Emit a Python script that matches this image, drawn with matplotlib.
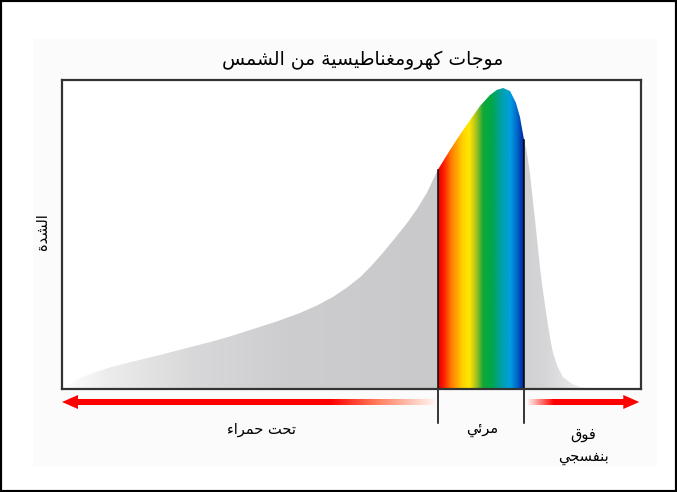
import numpy as np
import matplotlib
matplotlib.use("Agg")
import matplotlib.pyplot as plt
from matplotlib.colors import LinearSegmentedColormap
from matplotlib.patches import Polygon, Rectangle, FancyArrow

# --- text (Arabic) ---
title = "موجات كهرومغناطيسية من الشمس"
ylabel = "الشدة"
band_labels = ["تحت حمراء", "مرئي", "فوق\nبنفسجي"]

# --- curve (x: position 0-100, y: intensity 0-100) ---
x_ir = [0.0, 2.0, 4.5, 8.3, 12.5, 16.9, 21.0, 25.6, 29.0, 32.5, 37.0, 41.1, 44.0,
        46.8, 49.2, 51.5, 53.5, 55.4, 57.5, 59.6, 61.4, 63.0, 64.9]
y_ir = [0.5, 2.5, 4.6, 7.0, 9.0, 11.0, 13.0, 15.2, 17.0, 19.1, 21.8, 24.6, 27.0,
        29.8, 32.8, 36.2, 40.0, 44.0, 48.8, 53.7, 58.5, 63.4, 70.9]
x_vis = [64.9, 67.0, 68.7, 70.5, 72.2, 73.9, 75.1, 76.2, 77.4, 78.4, 79.1, 79.8]
y_vis = [70.9, 77.3, 82.2, 87.1, 91.6, 95.1, 96.8, 97.4, 96.4, 92.6, 88.0, 80.6]
x_uv = [79.8, 80.3, 80.8, 81.7, 82.6, 83.2, 83.8, 84.3, 84.8, 85.6, 86.5, 88.0, 89.5, 92.9]
y_uv = [80.6, 76.4, 70.0, 54.7, 38.5, 30.0, 22.3, 16.5, 11.7, 7.2, 3.9, 1.8, 0.6, 0.0]
label_x = [34.4, 72.5, 90.0]


# minimal arabic shaping: pick presentation forms, then reverse for LTR drawing
FORMS = {
    'ء': ('\ufe80', None, None, None),
    'ئ': ('\ufe89', '\ufe8a', '\ufe8b', '\ufe8c'),
    'ا': ('\ufe8d', '\ufe8e', None, None),
    'ب': ('\ufe8f', '\ufe90', '\ufe91', '\ufe92'),
    'ة': ('\ufe93', '\ufe94', None, None),
    'ت': ('\ufe95', '\ufe96', '\ufe97', '\ufe98'),
    'ج': ('\ufe9d', '\ufe9e', '\ufe9f', '\ufea0'),
    'ح': ('\ufea1', '\ufea2', '\ufea3', '\ufea4'),
    'د': ('\ufea9', '\ufeaa', None, None),
    'ر': ('\ufead', '\ufeae', None, None),
    'س': ('\ufeb1', '\ufeb2', '\ufeb3', '\ufeb4'),
    'ش': ('\ufeb5', '\ufeb6', '\ufeb7', '\ufeb8'),
    'ط': ('\ufec1', '\ufec2', '\ufec3', '\ufec4'),
    'غ': ('\ufecd', '\ufece', '\ufecf', '\ufed0'),
    'ف': ('\ufed1', '\ufed2', '\ufed3', '\ufed4'),
    'ق': ('\ufed5', '\ufed6', '\ufed7', '\ufed8'),
    'ك': ('\ufed9', '\ufeda', '\ufedb', '\ufedc'),
    'ل': ('\ufedd', '\ufede', '\ufedf', '\ufee0'),
    'م': ('\ufee1', '\ufee2', '\ufee3', '\ufee4'),
    'ن': ('\ufee5', '\ufee6', '\ufee7', '\ufee8'),
    'ه': ('\ufee9', '\ufeea', '\ufeeb', '\ufeec'),
    'و': ('\ufeed', '\ufeee', None, None),
    'ي': ('\ufef1', '\ufef2', '\ufef3', '\ufef4'),
}


def shape_line(s):
    out = []
    for i, c in enumerate(s):
        if c not in FORMS:
            out.append(c)
            continue
        prev = s[i - 1] if i > 0 else ''
        nxt = s[i + 1] if i + 1 < len(s) else ''
        iso, fin, ini, med = FORMS[c]
        jp = prev in FORMS and FORMS[prev][2] is not None and fin is not None
        jn = ini is not None and nxt in FORMS and FORMS[nxt][1] is not None
        if jp and jn:
            out.append(med)
        elif jp:
            out.append(fin)
        elif jn:
            out.append(ini)
        else:
            out.append(iso)
    return ''.join(reversed(out))


def ar(s):
    return '\n'.join(shape_line(l) for l in s.split('\n'))


plt.rcParams['font.family'] = ['DejaVu Sans']

W, H = 677, 492
fig = plt.figure(figsize=(W / 100, H / 100), dpi=100)

# faint panel + outer black border
fig.patches.append(Rectangle((33 / W, 1 - 467 / H), 624 / W, 428 / H, transform=fig.transFigure,
                             facecolor='#fbfbfb', edgecolor='none', zorder=-5))
fig.patches.append(Rectangle((0, 0), 1, 1, transform=fig.transFigure, fill=False,
                             edgecolor='black', lw=3, zorder=10))

ax = fig.add_axes([62 / W, 1 - 389 / H, 579 / W, 309 / H])
ax.set_facecolor('white')

ramp = np.linspace(0, 1, 256).reshape(1, -1)


def grad_fill(xs, ys, cmap):
    verts = list(zip(xs, ys)) + [(xs[-1], 0), (xs[0], 0)]
    poly = Polygon(verts, closed=True, facecolor='none', edgecolor='none')
    ax.add_patch(poly)
    im = ax.imshow(ramp, extent=[xs[0], xs[-1], 0, 100], aspect='auto', cmap=cmap,
                   origin='lower', interpolation='bilinear', zorder=1)
    im.set_clip_path(poly)


gray_ir = LinearSegmentedColormap.from_list('gir', [(0, '#ffffff'), (0.12, '#ececec'),
                                                     (0.35, '#d8d8da'), (0.6, '#cdcdd0'), (1, '#c9c9cc')])
spectrum = LinearSegmentedColormap.from_list('spec', [
    (0.00, '#e00000'), (0.06, '#ff1a00'), (0.15, '#ff7a00'), (0.28, '#ffd000'),
    (0.36, '#ffe800'), (0.44, '#a8c020'), (0.52, '#10a838'), (0.62, '#00a848'),
    (0.72, '#00a0a0'), (0.83, '#00a0e0'), (0.92, '#0060c8'), (1.00, '#001890')])
gray_uv = LinearSegmentedColormap.from_list('guv', [(0, '#d0d0d3'), (0.3, '#d6d6d8'),
                                                     (0.6, '#e6e6e8'), (1, '#ffffff')])

grad_fill(x_ir, y_ir, gray_ir)
grad_fill(x_vis, y_vis, spectrum)
grad_fill(x_uv, y_uv, gray_uv)

# edges of the visible band, extended below the frame
for xe, ye in [(x_vis[0], y_vis[0]), (x_vis[-1], y_vis[-1])]:
    ax.plot([xe, xe], [-11, ye], color='black', lw=1.1, clip_on=False, zorder=3)

ax.set_xlim(0, 100)
ax.set_ylim(0, 100)
ax.set_xticks([])
ax.set_yticks([])
for sp in ax.spines.values():
    sp.set_color('#333333')
    sp.set_linewidth(1.6)
    sp.set_zorder(4)

# arrows under the frame
ax2 = fig.add_axes([62 / W, 1 - 409 / H, 579 / W, 14 / H])
ax2.set_xlim(0, 100)
ax2.set_ylim(-1, 1)
ax2.axis('off')


def grad_arrow(x_tail, x_tip, cmap):
    arr = FancyArrow(x_tail, 0, x_tip - x_tail, 0, width=0.86, head_width=2, head_length=2.76,
                     length_includes_head=True, facecolor='none', edgecolor='none')
    ax2.add_patch(arr)
    lo, hi = min(x_tail, x_tip), max(x_tail, x_tip)
    im = ax2.imshow(ramp, extent=[lo, hi, -1, 1], aspect='auto', cmap=cmap,
                    origin='lower', interpolation='bilinear')
    im.set_clip_path(arr)


red_left = LinearSegmentedColormap.from_list('rl', [(0, '#ff0000'), (0.72, '#ff0000'),
                                                    (0.85, '#ff8060'), (1, '#fff4f0')])
red_right = LinearSegmentedColormap.from_list('rr', [(0, '#fff0ea'), (0.23, '#ff0000'), (1, '#ff0000')])
grad_arrow(64.4, 0.0, red_left)
grad_arrow(80.5, 99.7, red_right)
ax2.set_xlim(0, 100)
ax2.set_ylim(-1, 1)

# labels
fig.text(363 / W, 1 - 60 / H, ar(title), ha='center', va='center', fontsize=13.5)
fig.text(43 / W, 1 - 232 / H, ar(ylabel), ha='center', va='center', fontsize=10.5, rotation=90)
ax.text(label_x[0], -13, ar(band_labels[0]), ha='center', va='center', fontsize=10.5, clip_on=False)
ax.text(label_x[1], -13, ar(band_labels[1]), ha='center', va='center', fontsize=10.5, clip_on=False)
ax.text(label_x[2], -18.5, ar(band_labels[2]), ha='center', va='center', fontsize=10.5,
        multialignment='center', linespacing=1.6, clip_on=False)

fig.savefig('out.png', dpi=100)
